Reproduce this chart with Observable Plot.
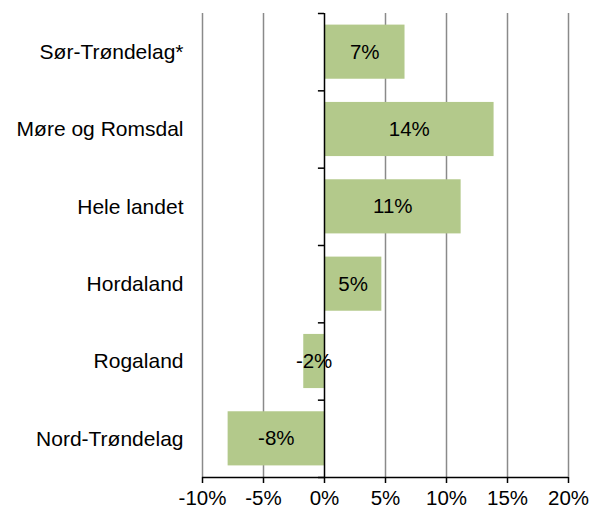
<!DOCTYPE html>
<html><head><meta charset="utf-8">
<script src="https://cdn.jsdelivr.net/npm/d3@7"></script>
<script src="https://cdn.jsdelivr.net/npm/@observablehq/plot@0.6"></script>
<style>
body{margin:0;background:#fff;}
svg{font-family:"Liberation Sans",Arial,sans-serif;}
</style></head>
<body><div id="chart"></div>
<script>
const categories = ["Sør-Trøndelag*", "Møre og Romsdal", "Hele landet", "Hordaland", "Rogaland", "Nord-Trøndelag"];
const values = [6.6, 13.9, 11.2, 4.7, -1.7, -7.9];
const xTicks = [-10, -5, 0, 5, 10, 15, 20];

const data = categories.map((c, i) => ({cat: c, i, v: values[i]}));
const bounds = d3.range(categories.length + 1);

const chart = Plot.plot({
  width: 601, height: 510,
  marginLeft: 202, marginRight: 33, marginTop: 13, marginBottom: 33,
  style: {fontFamily: '"Liberation Sans", Arial, sans-serif', fontSize: "20.5px", background: "#fff"},
  x: {domain: [-10, 20], ticks: xTicks, tickFormat: d => d + "%", tickSize: 6, tickPadding: 7, label: null},
  y: {domain: [0, categories.length], reverse: true, axis: null},
  marks: [
    Plot.ruleX(xTicks.filter(d => d !== 0), {stroke: "#8a8a8a", strokeWidth: 1.5}),
    Plot.rectX(data, {x1: 0, x2: "v", y1: d => d.i + 0.15, y2: d => d.i + 0.85, fill: "#b3c98b"}),
    Plot.ruleX([0], {stroke: "#000", strokeWidth: 1.5}),
    Plot.ruleY(bounds, {x1: -0.5, x2: 0, stroke: "#000", strokeWidth: 1.5}),
    Plot.ruleY([categories.length], {stroke: "#000", strokeWidth: 1.5}),
    Plot.text(data, {x: d => d.v / 2, y: d => d.i + 0.5, text: d => Math.round(d.v) + "%", fill: "#000", fontSize: 20.5}),
    Plot.text(data, {x: -10, y: d => d.i + 0.5, text: "cat", textAnchor: "end", dx: -19, fill: "#000", fontSize: 21})
  ]
});
d3.select(chart).selectAll("[aria-label='x-axis tick'] path").attr("stroke", "#000").attr("stroke-width", 1.5);
d3.select(chart).selectAll("[aria-label='x-axis tick label'] text").attr("fill", "#000");
document.getElementById("chart").appendChild(chart);
</script>
</body></html>
